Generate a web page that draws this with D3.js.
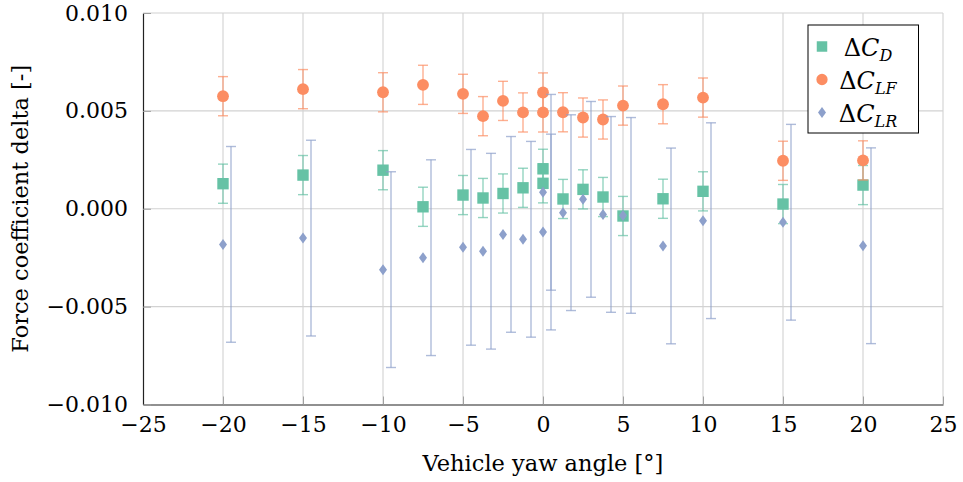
<!DOCTYPE html>
<html>
<head>
<meta charset="utf-8">
<script src="https://cdn.jsdelivr.net/npm/d3@7/dist/d3.min.js"></script>
<style>
  html, body { margin: 0; padding: 0; background: #fff; }
  svg { display: block; }
</style>
</head>
<body>
<svg id="chart" width="963" height="482"></svg>
<script>
// Yaw angles (deg); 0 deg was measured twice
const yaw = [-20, -15, -10, -7.5, -5, -3.75, -2.5, -1.25, 0, 0, 1.25, 2.5, 3.75, 5, 7.5, 10, 15, 20];

// Drag coefficient delta and its uncertainty
const dCD =    [0.00128, 0.00172, 0.00197, 0.00010, 0.00070, 0.00055, 0.00078, 0.00107, 0.00204, 0.00130, 0.00050, 0.00099, 0.00060, -0.00037, 0.00051, 0.00089, 0.00024, 0.00121];
const dCDErr = [0.001, 0.001, 0.001, 0.001, 0.001, 0.001, 0.001, 0.001, 0.001, 0.001, 0.001, 0.001, 0.001, 0.001, 0.001, 0.001, 0.001, 0.001];

// Front lift coefficient delta and its uncertainty
const dCLF =    [0.00575, 0.00611, 0.00595, 0.00633, 0.00587, 0.00473, 0.00551, 0.00492, 0.00594, 0.00492, 0.00493, 0.00466, 0.00456, 0.00527, 0.00534, 0.00568, 0.00245, 0.00247];
const dCLFErr = [0.001, 0.001, 0.001, 0.001, 0.001, 0.001, 0.001, 0.001, 0.001, 0.001, 0.001, 0.001, 0.001, 0.001, 0.001, 0.001, 0.001, 0.001];

// Rear lift coefficient delta and its uncertainty
const dCLR =    [-0.00182, -0.00150, -0.00311, -0.00250, -0.00197, -0.00217, -0.00131, -0.00156, 0.00084, -0.00119, -0.00020, 0.00048, -0.00029, -0.00034, -0.00190, -0.00061, -0.00069, -0.00189];
const dCLRErr = [0.005, 0.005, 0.005, 0.005, 0.005, 0.005, 0.005, 0.005, 0.005, 0.005, 0.005, 0.005, 0.005, 0.005, 0.005, 0.005, 0.005, 0.005];

// Axis ticks
const xTicks = [-25, -20, -15, -10, -5, 0, 5, 10, 15, 20, 25];
const yTicks = [-0.010, -0.005, 0.000, 0.005, 0.010];

const colors = { D: "#66c2a5", LF: "#fc8d62", LR: "#8da0cb" };
const lrBarShift = 0.5; // rear-lift error bars sit slightly right of their markers
const serif = "DejaVu Serif";

const svg = d3.select("#chart");
const margin = { left: 143, right: 20, top: 13, bottom: 77.5 };
const W = 963, H = 482;

const x = d3.scaleLinear().domain([-25, 25]).range([margin.left, W - margin.right]);
const y = d3.scaleLinear().domain([-0.010, 0.010]).range([H - margin.bottom, margin.top]);

const minus = s => s.replace("-", "\u2212");

// Grid
const grid = svg.append("g").attr("stroke", "#d2d2d2").attr("stroke-width", 1.1);
grid.selectAll("line.vx").data(xTicks.filter(t => t !== -25)).join("line")
  .attr("x1", d => x(d)).attr("x2", d => x(d))
  .attr("y1", y(-0.010)).attr("y2", y(0.010));
grid.selectAll("line.hy").data(yTicks.filter(t => t !== -0.010)).join("line")
  .attr("x1", x(-25)).attr("x2", x(25))
  .attr("y1", d => y(d)).attr("y2", d => y(d));

// Axes via d3-axis, inward ticks
const xAxis = svg.append("g")
  .attr("transform", `translate(0,${y(-0.010)})`)
  .call(d3.axisBottom(x).tickValues(xTicks).tickSizeInner(-8).tickSizeOuter(0).tickPadding(12)
    .tickFormat(d => minus(d3.format("d")(d))));
xAxis.attr("font-family", serif).attr("font-size", 22);
xAxis.select(".domain").attr("stroke", "#222").attr("stroke-width", 1.2);
xAxis.selectAll(".tick line").attr("stroke", "#a0a0a0");
xAxis.selectAll(".tick text").attr("fill", "#000");

const yAxis = svg.append("g")
  .attr("transform", `translate(${x(-25)},0)`)
  .call(d3.axisLeft(y).tickValues(yTicks).tickSizeInner(-8).tickSizeOuter(0).tickPadding(15)
    .tickFormat(d => minus(d3.format(".3f")(d))));
yAxis.attr("font-family", serif).attr("font-size", 22);
yAxis.select(".domain").attr("stroke", "#222").attr("stroke-width", 1.2);
yAxis.selectAll(".tick line").attr("stroke", "#a0a0a0");
yAxis.selectAll(".tick text").attr("fill", "#000");

// Axis titles
svg.append("text")
  .attr("x", x(0)).attr("y", 471)
  .attr("text-anchor", "middle").attr("font-size", 22.5).attr("font-family", serif)
  .text("Vehicle yaw angle [\u00b0]");
svg.append("text")
  .attr("transform", `translate(28,${y(0)}) rotate(-90)`)
  .attr("text-anchor", "middle").attr("font-size", 22.5).attr("font-family", serif)
  .text("Force coefficient delta [-]");

// Series
const capHalf = 5;
function errorBars(g, vals, errs, color, shift) {
  const data = yaw.map((a, i) => ({ a, v: vals[i], e: errs[i] }));
  const eb = g.append("g").attr("stroke", color).attr("stroke-opacity", 0.7).attr("stroke-width", 1.4).attr("fill", "none");
  const bars = eb.selectAll("g").data(data).join("g");
  bars.append("line")
    .attr("x1", d => x(d.a + shift)).attr("x2", d => x(d.a + shift))
    .attr("y1", d => y(d.v - d.e)).attr("y2", d => y(d.v + d.e));
  bars.append("line")
    .attr("x1", d => x(d.a + shift) - capHalf).attr("x2", d => x(d.a + shift) + capHalf)
    .attr("y1", d => y(d.v + d.e)).attr("y2", d => y(d.v + d.e));
  bars.append("line")
    .attr("x1", d => x(d.a + shift) - capHalf).attr("x2", d => x(d.a + shift) + capHalf)
    .attr("y1", d => y(d.v - d.e)).attr("y2", d => y(d.v - d.e));
  return data;
}

const symSquare = d3.symbol().type(d3.symbolSquare).size(130);
const symCircle = d3.symbol().type(d3.symbolCircle).size(110);
const diamondPath = "M0,-5.5L4,0L0,5.5L-4,0Z";

const gD = svg.append("g");
const dataD = errorBars(gD, dCD, dCDErr, colors.D, 0);
gD.selectAll("path").data(dataD).join("path")
  .attr("d", symSquare).attr("fill", colors.D)
  .attr("transform", d => `translate(${x(d.a)},${y(d.v)})`);

const gLF = svg.append("g");
const dataLF = errorBars(gLF, dCLF, dCLFErr, colors.LF, 0);
gLF.selectAll("path").data(dataLF).join("path")
  .attr("d", symCircle).attr("fill", colors.LF)
  .attr("transform", d => `translate(${x(d.a)},${y(d.v)})`);

const gLR = svg.append("g");
const dataLR = errorBars(gLR, dCLR, dCLRErr, colors.LR, lrBarShift);
gLR.selectAll("path").data(dataLR).join("path")
  .attr("d", diamondPath).attr("fill", colors.LR)
  .attr("transform", d => `translate(${x(d.a)},${y(d.v)})`);

// Legend
const legend = svg.append("g");
legend.append("rect")
  .attr("x", 808).attr("y", 25).attr("width", 110.5).attr("height", 108)
  .attr("fill", "#fff").attr("stroke", "#000").attr("stroke-width", 1);
const entries = [
  { sub: "D", color: colors.D, shape: "sq" },
  { sub: "LF", color: colors.LF, shape: "ci" },
  { sub: "LR", color: colors.LR, shape: "di" }
];
entries.forEach((e, i) => {
  const cy = 46.5 + i * 33;
  const p = legend.append("path").attr("fill", e.color)
    .attr("transform", `translate(822,${cy})`);
  if (e.shape === "sq") p.attr("d", d3.symbol().type(d3.symbolSquare).size(110));
  else if (e.shape === "ci") p.attr("d", d3.symbol().type(d3.symbolCircle).size(100));
  else p.attr("d", diamondPath);
  const t = legend.append("text").attr("x", 868).attr("y", cy + 9)
    .attr("text-anchor", "middle").attr("font-size", 24).attr("font-family", serif);
  t.append("tspan").text("\u0394");
  t.append("tspan").attr("font-style", "italic").text("C");
  t.append("tspan").attr("font-style", "italic").attr("font-size", 16).attr("dy", 5).text(e.sub);
});
</script>
</body>
</html>
